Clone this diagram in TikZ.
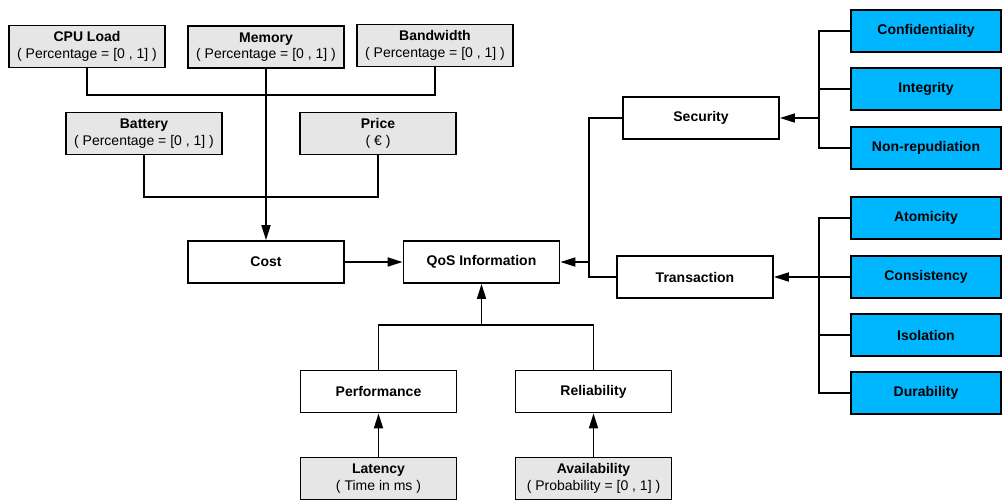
\documentclass[tikz,border=0pt]{standalone}
\usepackage{fontspec}
\setmainfont{Liberation Sans}
\usetikzlibrary{arrows.meta}
\definecolor{boxgray}{RGB}{230,230,230}
\definecolor{boxblue}{RGB}{0,183,255}
\tikzset{
  base/.style={draw=black, line width=1.8pt, minimum width=156pt, minimum height=42pt, inner sep=0pt, align=center, font=\fontsize{14}{16.5}\selectfont},
  wbox/.style={base, fill=white},
  gbox/.style={base, fill=boxgray},
  bbox/.style={base, fill=boxblue, minimum width=150pt},
  conn/.style={line width=1.8pt},
  arr/.style={conn, -{Triangle[length=15pt,width=9pt]}}
}
\begin{document}
\begin{tikzpicture}[x=1pt,y=-1pt]
\useasboundingbox (0,0) rectangle (1003,501);
% top gray boxes
\node[gbox] (cpu) at (87,46.5) {\textbf{CPU Load}\\( Percentage = [0 , 1] )};
\node[gbox] (mem) at (266,47) {\textbf{Memory}\\( Percentage = [0 , 1] )};
\node[gbox] (bw) at (435,45.5) {\textbf{Bandwidth}\\( Percentage = [0 , 1] )};
\node[gbox] (bat) at (144,133.5) {\textbf{Battery}\\( Percentage = [0 , 1] )};
\node[gbox] (price) at (378,133.5) {\textbf{Price}\\( € )};
% middle
\node[wbox] (cost) at (266,262) {\textbf{Cost}};
\node[wbox] (qos) at (481.5,262) {\textbf{QoS Information}};
\node[wbox] (sec) at (701,118) {\textbf{Security}};
\node[wbox] (tr) at (695,277) {\textbf{Transaction}};
% blue
\node[bbox] (conf) at (926,31) {\textbf{Confidentiality}};
\node[bbox] (integ) at (926,89) {\textbf{Integrity}};
\node[bbox] (nonrep) at (926,148) {\textbf{Non-repudiation}};
\node[bbox] (atom) at (926,218) {\textbf{Atomicity}};
\node[bbox] (cons) at (926,277) {\textbf{Consistency}};
\node[bbox] (iso) at (926,335) {\textbf{Isolation}};
\node[bbox] (dur) at (926,393) {\textbf{Durability}};
% bottom
\node[wbox] (perf) at (378.5,391.5) {\textbf{Performance}};
\node[wbox] (rel) at (593.5,391.5) {\textbf{Reliability}};
\node[gbox] (lat) at (378.5,478.5) {\textbf{Latency}\\( Time in ms )};
\node[gbox] (avail) at (593.5,478.5) {\textbf{Availability}\\( Probability = [0 , 1] )};
% coordinates
\coordinate (sx) at (589,0);
\coordinate (bx) at (819,0);
\coordinate (py) at (0,325);
\coordinate (ty) at (0,95);
\coordinate (by) at (0,197);
% connectors top
\draw[conn] (cpu.south) |- (bw.south |- ty) -- (bw.south);
\draw[conn] (bat.south) |- (price.south |- by) -- (price.south);
\draw[arr] (mem.south) -- (cost.north);
\draw[arr] (cost.east) -- (qos.west);
% security / transaction
\draw[conn] (sec.west) -| (sx |- tr.west) -- (tr.west);
\draw[arr] (sx |- qos.east) -- (qos.east);
\draw[conn] (conf.west) -| (bx |- nonrep.west) -- (nonrep.west);
\draw[conn] (integ.west) -- (bx |- integ.west);
\draw[arr] (bx |- sec.east) -- (sec.east);
\draw[conn] (atom.west) -| (bx |- dur.west) -- (dur.west);
\draw[conn] (cons.west) -- (bx |- cons.west);
\draw[conn] (iso.west) -- (bx |- iso.west);
\draw[arr] (bx |- tr.east) -- (tr.east);
% bottom
\draw[conn] (perf.north) |- (rel.north |- py) -- (rel.north);
\draw[arr] (qos.south |- py) -- (qos.south);
\draw[arr] (lat.north) -- (perf.south);
\draw[arr] (avail.north) -- (rel.south);
\end{tikzpicture}
\end{document}
